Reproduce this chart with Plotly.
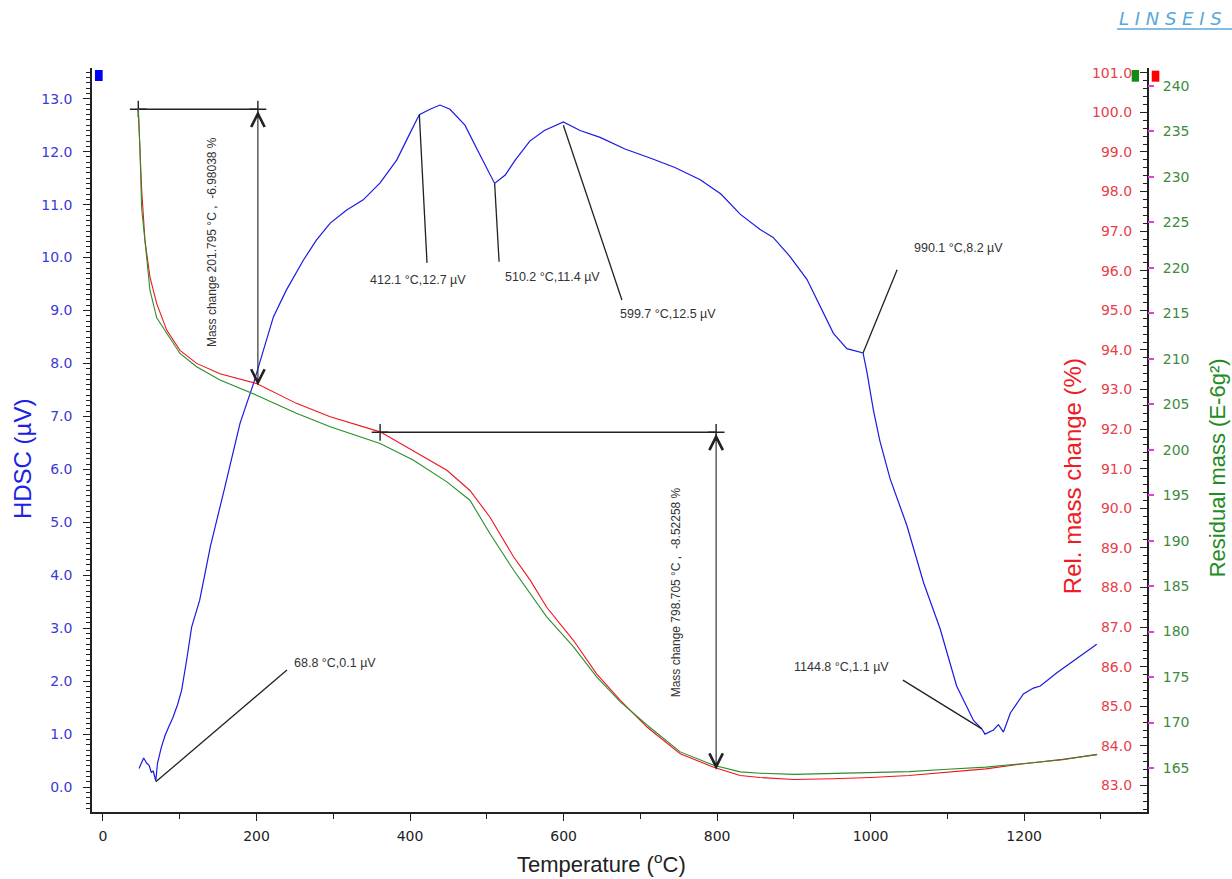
import plotly.graph_objects as go

# ---------------- data ----------------
# HDSC curve (temperature in degC, signal in microvolt)
hdsc_T = [47, 53, 57, 60, 63, 65.5, 68.8, 71, 76, 81, 86, 91, 97, 102.5, 109, 115.5, 126, 140, 159,
          178.5, 196, 209, 222, 239, 261, 278, 296, 317.5, 339, 361, 382.6, 400, 412.1, 426, 439,
          452, 471.5, 491, 504, 510.2, 524, 537, 556, 575, 599.7, 621.5, 647.6, 680, 712.7, 745,
          778, 805, 830, 856, 873, 895, 917, 934, 951.5, 969, 990.1, 995, 1003.6, 1012, 1025.4,
          1047, 1069, 1090.5, 1112, 1134, 1144.8, 1149, 1160, 1166.5, 1173, 1182, 1199, 1212,
          1221, 1242.6, 1264, 1281.6, 1294.5]
hdsc_V = [0.35, 0.55, 0.45, 0.41, 0.28, 0.3, 0.12, 0.45, 0.75, 0.98, 1.15, 1.31, 1.55, 1.83, 2.4,
          3.02, 3.53, 4.55, 5.68, 6.87, 7.62, 8.25, 8.88, 9.39, 9.95, 10.33, 10.65, 10.9, 11.09,
          11.41, 11.84, 12.35, 12.7, 12.8, 12.88, 12.8, 12.5, 11.94, 11.56, 11.4, 11.56, 11.84,
          12.2, 12.4, 12.56, 12.4, 12.27, 12.05, 11.88, 11.7, 11.47, 11.2, 10.82, 10.53, 10.38,
          10.02, 9.59, 9.08, 8.57, 8.28, 8.2, 7.85, 7.12, 6.54, 5.82, 4.95, 3.86, 2.99, 1.91, 1.26,
          1.1, 1.0, 1.08, 1.18, 1.04, 1.4, 1.76, 1.87, 1.91, 2.16, 2.38, 2.56, 2.7]

# Relative mass change (%)
rel_T = [46, 48, 50.4, 54.7, 61.2, 70, 83, 100.3, 122, 152.4, 200, 252, 296, 361, 404, 448, 478,
         504, 535, 556.7, 578, 613, 643, 674, 709, 752, 795.6, 830, 856, 900, 950, 1000, 1050,
         1100, 1150, 1200, 1250, 1295]
rel_pct = [100.08, 99.2, 98.04, 96.77, 95.84, 95.17, 94.5, 93.99, 93.66, 93.4, 93.15, 92.65, 92.31,
           91.93, 91.46, 90.96, 90.45, 89.78, 88.77, 88.18, 87.5, 86.66, 85.82, 85.15, 84.47, 83.8,
           83.46, 83.25, 83.2, 83.15, 83.17, 83.2, 83.25, 83.33, 83.42, 83.55, 83.66, 83.78]

# Residual mass (E-6 g^2)
res_T = rel_T
res_mass = [237.47, 233.4, 226.5, 223.06, 217.56, 214.5, 212.8, 210.59, 209.12, 207.66, 206.0,
            204.0, 202.52, 200.69, 198.86, 196.47, 194.45, 190.79, 186.74, 184.19, 181.62, 178.32,
            175.02, 172.27, 169.7, 166.77, 165.3, 164.57, 164.42, 164.3, 164.4, 164.5, 164.6,
            164.86, 165.1, 165.5, 165.9, 166.5]

# Peak annotations
peak_T = [68.8, 412.1, 510.2, 599.7, 990.1, 1144.8]
peak_V = [0.1, 12.7, 11.4, 12.5, 8.2, 1.1]
peak_labels = ["68.8 °C,0.1 µV", "412.1 °C,12.7 µV", "510.2 °C,11.4 µV", "599.7 °C,12.5 µV",
               "990.1 °C,8.2 µV", "1144.8 °C,1.1 µV"]
# leader line ends and label centres (data coordinates)
leader_T = [239.7, 422.1, 516, 676, 1034.5, 1042]
leader_V = [2.21, 9.9, 9.92, 9.2, 9.77, 2.02]
label_T = [302, 410.4, 586, 736, 1114, 961.6]
label_V = [2.34, 9.58, 9.63, 8.94, 10.18, 2.26]

# Mass change steps
step_start_T = [46, 361]
step_end_T = [201.795, 798.705]
step_top = [100.08, 91.92]
step_change = [-6.98038, -8.52258]
step_text_T = [142, 746.6]
step_text_y = [0.766, 0.2954]

x_ticks = [0, 200, 400, 600, 800, 1000, 1200]

# ---------------- styles ----------------
BLUE = "#1a1ae0"
RED = "#f0141e"
GREEN = "#2a8f2a"
AX = "#222222"
TXT = "#333333"

fig = go.Figure()

fig.add_trace(go.Scatter(x=hdsc_T, y=hdsc_V, mode="lines", line=dict(color=BLUE, width=1.2),
                         yaxis="y", showlegend=False, hoverinfo="skip"))
fig.add_trace(go.Scatter(x=res_T, y=res_mass, mode="lines", line=dict(color=GREEN, width=1.1),
                         yaxis="y3", showlegend=False, hoverinfo="skip"))
fig.add_trace(go.Scatter(x=rel_T, y=rel_pct, mode="lines", line=dict(color=RED, width=1.1),
                         yaxis="y2", showlegend=False, hoverinfo="skip"))

annotations = []
shapes = []

# mass-change brackets
for s, e, top, ch, tt, ty in zip(step_start_T, step_end_T, step_top, step_change,
                                 step_text_T, step_text_y):
    bottom = top + ch
    fig.add_trace(go.Scatter(x=[s, e], y=[top, top], mode="lines+markers", yaxis="y2",
                             line=dict(color=AX, width=1.6),
                             marker=dict(symbol="cross-thin", size=12,
                                         line=dict(color=AX, width=1.4)),
                             showlegend=False, hoverinfo="skip"))
    annotations.append(dict(x=e, y=bottom, xref="x", yref="y2", ax=e, ay=top,
                            axref="x", ayref="y2", text="", showarrow=True,
                            arrowside="end+start", arrowhead=5, startarrowhead=5,
                            arrowsize=2.4, startarrowsize=2.4, arrowwidth=1.1,
                            arrowcolor=AX, standoff=0, startstandoff=0))
    annotations.append(dict(x=tt, y=ty, xref="x", yref="paper", showarrow=False,
                            textangle=-90, xanchor="center", yanchor="middle",
                            text=f"Mass change {e:.3f} °C ,  {ch:.5f} %",
                            font=dict(family="Liberation Sans, Arial", size=12, color=TXT)))

# peak leader lines and labels
for pT, pV, lT, lV, tT, tV, lab in zip(peak_T, peak_V, leader_T, leader_V, label_T, label_V,
                                       peak_labels):
    shapes.append(dict(type="line", xref="x", yref="y", x0=pT, y0=pV, x1=lT, y1=lV,
                       line=dict(color=AX, width=1.3)))
    annotations.append(dict(x=tT, y=tV, xref="x", yref="y", showarrow=False, text=lab,
                            xanchor="center", yanchor="middle",
                            font=dict(family="Liberation Sans, Arial", size=12.5, color=TXT)))

# axis titles
title_font = "Liberation Sans, Arial"
annotations += [
    dict(x=-0.0664, y=0.4756, xref="paper", yref="paper", text="HDSC (µV)", textangle=-90,
         xanchor="center", yanchor="middle", showarrow=False,
         font=dict(family=title_font, size=24, color="#2020e6")),
    dict(x=0.9289, y=0.4514, xref="paper", yref="paper", text="Rel. mass change (%)",
         textangle=-90, xanchor="center", yanchor="middle", showarrow=False,
         font=dict(family=title_font, size=24, color="#ee1c25")),
    dict(x=1.0665, y=0.4622, xref="paper", yref="paper", text="Residual mass (E-6g²)",
         textangle=-90, xanchor="center", yanchor="middle", showarrow=False,
         font=dict(family=title_font, size=22, color="#228b22")),
    dict(x=0.4834, y=-0.068, xref="paper", yref="paper", text="Temperature (<sup>o</sup>C)",
         xanchor="center", yanchor="middle", showarrow=False,
         font=dict(family=title_font, size=22, color=AX)),
    dict(x=0.9716, y=1.066, xref="paper", yref="paper", xanchor="left", yanchor="middle",
         text="<i>L I N S E I S</i>", showarrow=False,
         font=dict(family="DejaVu Sans", size=18, color="#5aa7d9")),
]

# small legend markers and logo underline
shapes += [
    dict(type="rect", xref="paper", yref="paper", x0=0.0028, x1=0.0101, y0=0.9825, y1=0.9973,
         fillcolor="#0000ff", line=dict(width=0)),
    dict(type="rect", xref="paper", yref="paper", x0=0.9855, x1=0.9924, y0=0.9816, y1=0.9973,
         fillcolor="#138a13", line=dict(width=0)),
    dict(type="rect", xref="paper", yref="paper", x0=1.0045, x1=1.0117, y0=0.9816, y1=0.9964,
         fillcolor="#ff0000", line=dict(width=0)),
    dict(type="line", xref="paper", yref="paper", x0=0.9716, x1=1.083, y0=1.0524, y1=1.0524,
         line=dict(color="#5aa7d9", width=1.5)),
]

tickfont = dict(family="DejaVu Sans", size=14)

fig.update_layout(
    width=1232, height=879,
    margin=dict(l=92, r=85, t=68, b=67),
    paper_bgcolor="white", plot_bgcolor="white",
    showlegend=False,
    annotations=annotations, shapes=shapes,
    xaxis=dict(range=[-14.3, 1360], tickvals=x_ticks, ticks="outside", ticklen=7,
               tickwidth=1.2, tickcolor=AX, showline=True, linecolor=AX, linewidth=1.5,
               showgrid=False, zeroline=False, tickfont=dict(color=AX, **tickfont),
               ticklabelstandoff=3,
               minor=dict(dtick=100, tick0=0, ticks="outside", ticklen=5, tickcolor=AX,
                          showgrid=False)),
    yaxis=dict(range=[-0.47, 13.58], dtick=1, tick0=0, tickformat=".1f", ticks="outside",
               ticklen=7, tickwidth=1.2, tickcolor=AX, showline=True, linecolor=AX,
               linewidth=1.5, showgrid=False, zeroline=False,
               tickfont=dict(color="#3b3bd6", **tickfont), ticklabelstandoff=8,
               minor=dict(dtick=0.1, ticks="outside", ticklen=4, tickcolor=AX, showgrid=False)),
    yaxis2=dict(range=[82.33, 101.12], overlaying="y", side="right", anchor="x", dtick=1,
                tick0=83, tickformat=".1f", ticks="inside", ticklabelposition="inside",
                ticklabeloverflow="allow",
                ticklen=7, tickwidth=1.2, tickcolor=AX, showline=True, linecolor=AX,
                linewidth=1.5, showgrid=False, zeroline=False,
                tickfont=dict(color="#e8404a", **tickfont), ticklabelstandoff=8,
                minor=dict(dtick=0.2, ticks="inside", ticklen=4, tickcolor=AX,
                           showgrid=False)),
    yaxis3=dict(range=[160.16, 241.98], overlaying="y", side="right", anchor="x", dtick=5,
                tick0=160, ticks="outside", ticklen=6, tickwidth=1.5, tickcolor="#e040e0",
                showline=False, showgrid=False, zeroline=False,
                tickfont=dict(color="#3d8b3d", **tickfont), ticklabelstandoff=6),
)

fig.write_html("out.html", config={"displayModeBar": False},
               post_script="document.body.style.margin='0';")
